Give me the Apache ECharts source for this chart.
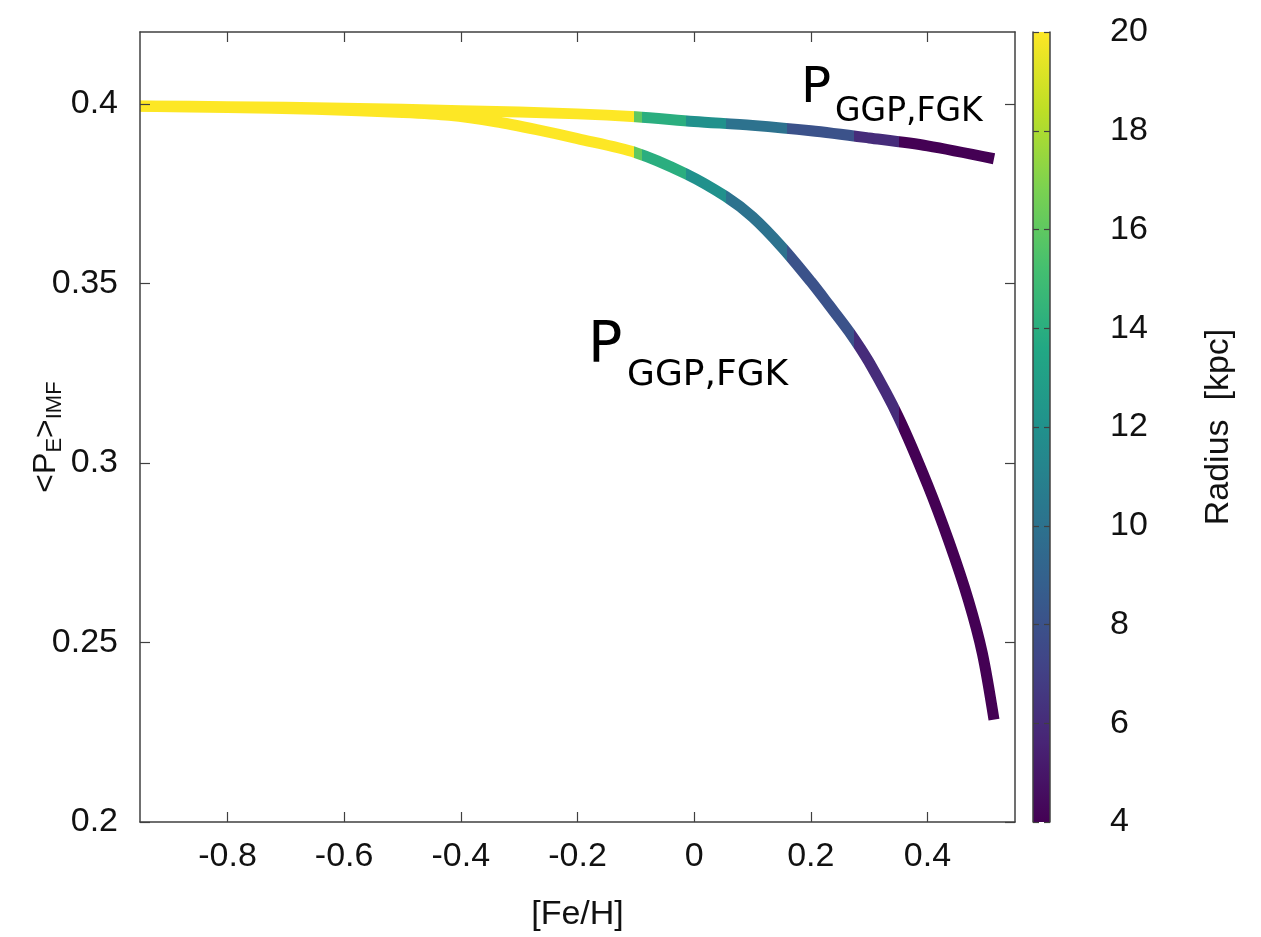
<!DOCTYPE html>
<html><head><meta charset="utf-8">
<script src="https://cdn.jsdelivr.net/npm/echarts@6/dist/echarts.min.js"></script>
<style>html,body{margin:0;padding:0;background:#fff}#c{width:1261px;height:937px}</style>
</head><body><div id="c"></div>
<script>
// [Fe/H], <P_E>_IMF
const upperCurve = [[-0.95,0.3994],[-0.8,0.3992],[-0.6,0.3988],[-0.4,0.3981],[-0.2,0.3972],[-0.1,0.3964],[0.0,0.3951],[0.1,0.3940],[0.2,0.3925],[0.3,0.3905],[0.4,0.3883],[0.514,0.3847]];
const lowerCurve = [[-0.95,0.3993],[-0.8,0.3990],[-0.65,0.3985],[-0.5,0.3976],[-0.42,0.3968],[-0.34,0.3950],[-0.27,0.3928],[-0.2,0.3903],[-0.1,0.3864],[-0.014,0.3805],[0.054,0.3742],[0.10,0.3685],[0.151,0.3600],[0.2,0.3505],[0.231,0.3440],[0.266,0.3365],[0.30,0.3280],[0.351,0.3125],[0.40,0.2940],[0.437,0.2780],[0.47,0.2618],[0.494,0.2470],[0.514,0.2285]];
// radius (kpc) bands along [Fe/H]
const fehBreaks = [-0.103,-0.089,-0.014,0.055,0.160,0.274,0.351];
const radiusBands = [20,16,14,12,10,8,6,4];
const xTicks = [-0.8,-0.6,-0.4,-0.2,0,0.2,0.4];
const yTicks = [0.2,0.25,0.3,0.35,0.4];
const radiusTicks = [4,6,8,10,12,14,16,18,20];
const radiusRange = [4,20];
const viridisStops = ['#440154','#482475','#414487','#355f8d','#2a788e','#21918c','#22a884','#44bf70','#7ad151','#bddf26','#fde725'];

function hex2rgb(h){return [parseInt(h.substr(1,2),16),parseInt(h.substr(3,2),16),parseInt(h.substr(5,2),16)];}
function viridisAt(t){
  t=Math.max(0,Math.min(1,t));
  const n=viridisStops.length-1, f=t*n, i=Math.min(n-1,Math.floor(f)), u=f-i;
  const a=hex2rgb(viridisStops[i]), b=hex2rgb(viridisStops[i+1]);
  return 'rgb('+a.map((v,k)=>Math.round(v+(b[k]-v)*u)).join(',')+')';
}
const pieces = radiusBands.map((r,i)=>{
  const p={color:viridisAt((r-radiusRange[0])/(radiusRange[1]-radiusRange[0]))};
  if(i>0) p.gte=fehBreaks[i-1];
  if(i<fehBreaks.length) p.lt=fehBreaks[i];
  return p;
});

const axisCol='#404040';
const lblFont={fontFamily:'Liberation Sans, Arial, sans-serif',fontSize:34,color:'#111'};
function line(){return {show:true,onZero:false,lineStyle:{color:axisCol,width:1.5}};}
function ticks(vals,len){return {show:true,inside:true,length:len,customValues:vals,lineStyle:{color:axisCol,width:1.2}};}
const chart=echarts.init(document.getElementById('c'),null,{renderer:'canvas'});
chart.setOption({
  animation:false,
  backgroundColor:'#fff',
  grid:[{left:140,top:32,right:246,bottom:115},{left:1033,top:32,width:17,height:790}],
  xAxis:[
    {type:'value',gridIndex:0,min:-0.95,max:0.55,z:10,name:'[Fe/H]',nameLocation:'middle',nameGap:76,
     nameTextStyle:lblFont,axisLine:line(),axisTick:ticks(xTicks,10),
     axisLabel:Object.assign({margin:18,customValues:xTicks},lblFont),splitLine:{show:false}},
    {type:'value',gridIndex:0,position:'top',min:-0.95,max:0.55,z:10,
     axisLine:line(),axisTick:ticks(xTicks,10),axisLabel:{show:false},splitLine:{show:false}},
    {type:'value',gridIndex:1,min:0,max:1,show:false}
  ],
  yAxis:[
    {type:'value',gridIndex:0,position:'left',min:0.2,max:0.42,z:10,
     axisLine:line(),axisTick:ticks(yTicks,10),
     axisLabel:Object.assign({margin:22,customValues:yTicks},lblFont),splitLine:{show:false}},
    {type:'value',gridIndex:0,position:'right',min:0.2,max:0.42,z:10,
     axisLine:line(),axisTick:ticks(yTicks,10),axisLabel:{show:false},splitLine:{show:false}},
    {type:'value',gridIndex:1,position:'left',min:radiusRange[0],max:radiusRange[1],z:10,
     axisLine:line(),axisTick:ticks(radiusTicks,6),axisLabel:{show:false},splitLine:{show:false}},
    {type:'value',gridIndex:1,position:'right',min:radiusRange[0],max:radiusRange[1],z:10,
     name:'Radius  [kpc]',nameLocation:'middle',nameGap:152,nameRotate:90,nameTextStyle:lblFont,
     axisLine:line(),axisTick:ticks(radiusTicks,6),
     axisLabel:Object.assign({margin:60,align:'left',customValues:radiusTicks},lblFont),splitLine:{show:false}}
  ],
  visualMap:[{type:'piecewise',show:false,dimension:0,seriesIndex:[0,1],pieces:pieces}],
  series:[
    {type:'line',name:'lower',xAxisIndex:0,yAxisIndex:0,data:lowerCurve,showSymbol:false,smooth:0.3,
     lineStyle:{width:11,cap:'butt'}},
    {type:'line',name:'upper',xAxisIndex:0,yAxisIndex:0,data:upperCurve,showSymbol:false,smooth:0.3,
     lineStyle:{width:11,cap:'butt'}},
    {type:'custom',xAxisIndex:2,yAxisIndex:2,data:[[0.5,radiusRange[0],radiusRange[1]]],
     renderItem:function(params,api){
       const top=api.coord([0,radiusRange[1]]), bot=api.coord([0,radiusRange[0]]);
       const cs=params.coordSys;
       return {type:'rect',shape:{x:cs.x,y:top[1],width:cs.width,height:bot[1]-top[1]},
         style:{fill:new echarts.graphic.LinearGradient(0,1,0,0,viridisStops.map((c,i)=>({offset:i/(viridisStops.length-1),color:c})))}};
     }}
  ],
  graphic:[
    {type:'text',x:46,y:437,rotation:Math.PI/2,style:{text:'{m|<P}{s|E}{m|>}{s|IMF}',align:'center',verticalAlign:'middle',
      rich:{m:{fontFamily:'Liberation Sans, Arial, sans-serif',fontSize:32,lineHeight:40,fill:'#111'},
            s:{fontFamily:'Liberation Sans, Arial, sans-serif',fontSize:22,lineHeight:14,verticalAlign:'bottom',fill:'#111'}}}},
    {type:'text',x:801,y:114,style:{text:'P',fontFamily:'DejaVu Sans',fontSize:50,fill:'#000',verticalAlign:'bottom'}},
    {type:'text',x:835,y:129,style:{text:'GGP,FGK',fontFamily:'DejaVu Sans',fontSize:33,fill:'#000',verticalAlign:'bottom'}},
    {type:'text',x:588,y:376,style:{text:'P',fontFamily:'DejaVu Sans',fontSize:57,fill:'#000',verticalAlign:'bottom'}},
    {type:'text',x:627,y:394,style:{text:'GGP,FGK',fontFamily:'DejaVu Sans',fontSize:36,fill:'#000',verticalAlign:'bottom'}}
  ]
});
</script></body></html>
